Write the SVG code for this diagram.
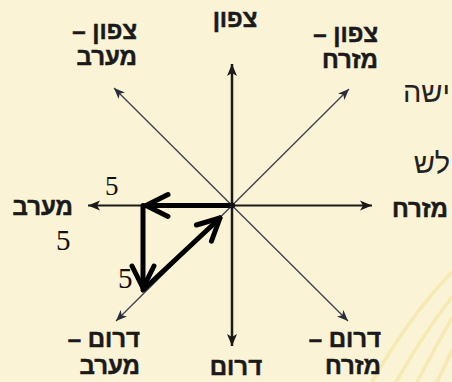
<svg xmlns="http://www.w3.org/2000/svg" width="452" height="382" viewBox="0 0 452 382">
<style>
.lbl{font-family:"Liberation Sans","DejaVu Sans",sans-serif;font-weight:bold;font-size:24px;fill:#1a1a1a;stroke:#1a1a1a;stroke-width:0.5;direction:rtl;text-anchor:start}
.lblc{font-family:"Liberation Sans","DejaVu Sans",sans-serif;font-weight:bold;font-size:24px;fill:#1a1a1a;stroke:#1a1a1a;stroke-width:0.5;text-anchor:middle}
.num{font-family:"Liberation Serif","DejaVu Serif",serif;fill:#111}
.bg{font-family:"Liberation Sans","DejaVu Sans",sans-serif;font-size:29px;fill:#222;direction:rtl;text-anchor:start}
.axis{fill:none;stroke:#1a1a1a}
.diag{fill:none;stroke:#3c4050;stroke-width:1.3}
.vec{fill:none;stroke:#000;stroke-width:5;stroke-linecap:round;stroke-linejoin:round}
.arc{fill:none;stroke:#f3e4a3;stroke-width:3.5;opacity:0.7}
</style>
<defs>
<marker id="ah" markerUnits="userSpaceOnUse" orient="auto-start-reverse" refX="0" refY="0" overflow="visible">
<path d="M0,0 L-12,-5 L-9,0 L-12,5 Z" fill="#1a1a1a"/>
</marker>
<marker id="ahd" markerUnits="userSpaceOnUse" orient="auto-start-reverse" refX="0" refY="0" overflow="visible">
<path d="M0,0 L-11,-4.5 L-8,0 L-11,4.5 Z" fill="#2a2e3a"/>
</marker>
<marker id="chev" markerUnits="userSpaceOnUse" orient="auto" refX="0" refY="0" overflow="visible">
<path d="M-22,-11 L0,0 L-22,11" fill="none" stroke="#000" stroke-width="5" stroke-linecap="round" stroke-linejoin="round"/>
</marker>
</defs>
<rect width="452" height="382" fill="#fbf3d6"/>
<g id="background-lines">
<path class="arc" d="M372 382 Q408 318 452 272"/>
<path class="arc" d="M396 382 Q424 333 452 297"/>
<path class="arc" d="M417 382 Q436 346 452 318"/>
<path class="arc" d="M437 382 Q446 364 452 350"/>
</g>
<g id="page-text">
<text class="bg" x="450" y="102">ישה</text>
<text class="bg" x="450" y="173">לש</text>
</g>
<g id="connectors">
<line class="axis" x1="232" y1="64" x2="232" y2="346" stroke-width="2.5" marker-start="url(#ah)" marker-end="url(#ah)"/>
<line class="axis" x1="88" y1="205.5" x2="372" y2="205.5" stroke-width="2" marker-start="url(#ah)" marker-end="url(#ah)"/>
<line class="diag" x1="114" y1="88" x2="348" y2="321" marker-start="url(#ahd)" marker-end="url(#ahd)"/>
<line class="diag" x1="349" y1="89" x2="116" y2="321" marker-start="url(#ahd)" marker-end="url(#ahd)"/>
<line class="vec" x1="232" y1="205.5" x2="146" y2="205.5" marker-end="url(#chev)"/>
<line class="vec" x1="143" y1="205.5" x2="143" y2="288" marker-end="url(#chev)"/>
<line class="vec" x1="143" y1="290" x2="220" y2="218" marker-end="url(#chev)"/>
<circle cx="232" cy="205.5" r="3" fill="#111"/>
</g>
<g id="labels-5">
<text class="num" x="105" y="195" font-size="27">5</text>
<text class="num" x="56" y="250" font-size="29">5</text>
<text class="num" x="118" y="288" font-size="29">5</text>
</g>
<g id="n"><text class="lblc" x="235" y="27">צפון</text></g>
<g id="nw"><text class="lbl" x="137" y="39">צפון –</text><text class="lbl" x="137" y="65">מערב</text></g>
<g id="ne"><text class="lbl" x="378" y="42">צפון –</text><text class="lbl" x="378" y="68">מזרח</text></g>
<g id="w"><text class="lbl" x="73" y="215">מערב</text></g>
<g id="e"><text class="lbl" x="448" y="217">מזרח</text></g>
<g id="sw"><text class="lbl" x="140" y="347">דרום –</text><text class="lbl" x="140" y="374">מערב</text></g>
<g id="s"><text class="lblc" x="236" y="375">דרום</text></g>
<g id="se"><text class="lbl" x="381" y="347">דרום –</text><text class="lbl" x="381" y="374">מזרח</text></g>
</svg>
